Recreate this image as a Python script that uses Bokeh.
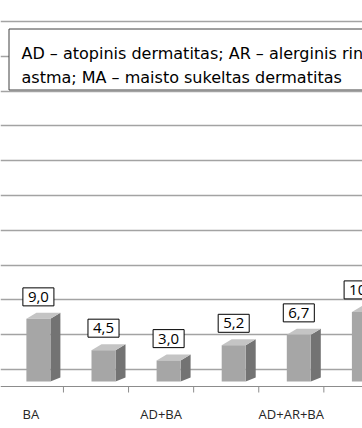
from bokeh.plotting import figure
from bokeh.models import Range1d, FixedTicker, Grid, ColumnDataSource, Span
from bokeh.core.properties import value
from bokeh.embed import file_html
from bokeh.resources import INLINE

# ---- data ----
values = [9.0, 4.5, 3.0, 5.2, 6.7, 10.0]
value_labels = ["9,0", "4,5", "3,0", "5,2", "6,7", "10,0"]
tick_positions = [0, 2, 4]
tick_labels = ["BA", "AD+BA", "AD+AR+BA"]
boundaries = [0.5, 1.5, 2.5, 3.5, 4.5]
grid_values = [0, 5, 10, 15, 20, 25, 30, 35, 40, 45, 50]
legend_lines = [
    "AD – atopinis dermatitas; AR – alerginis rinitas; BA – bronchinė",
    "astma; MA – maisto sukeltas dermatitas",
]

# ---- layout constants (picture pixels) ----
W, H = 362, 428
CAT_PX = 65.1
CAT0_X = 30.4
UNIT_PX = 6.96
ZERO_Y = 369.0
AXIS_Y = 386.0


def px_x(page_x):
    return (page_x - CAT0_X) / CAT_PX


def px_y(page_y):
    return (ZERO_Y - page_y) / UNIT_PX


def dx(px):
    return px / CAT_PX


def dy(px):
    return px / UNIT_PX


p = figure(
    width=W, height=H, output_backend="svg", toolbar_location=None,
    x_range=Range1d(px_x(0), px_x(W)),
    y_range=Range1d(px_y(H), px_y(0)),
    x_axis_location=None, y_axis_location=None,
    min_border=0,
)
p.outline_line_color = None
p.background_fill_color = "white"
p.border_fill_color = "white"

# remove default grids
for r in list(p.center):
    if isinstance(r, Grid):
        r.visible = False

grid = Grid(dimension=1, ticker=FixedTicker(ticks=grid_values),
            grid_line_color="#a3a3a3", grid_line_width=1.6)
p.add_layout(grid)

# ---- category axis (floor line, ticks between categories, labels) ----
p.add_layout(Span(location=px_y(AXIS_Y), dimension="width",
                  line_color="#8c8c8c", line_width=1))
p.segment(x0=boundaries, y0=[px_y(AXIS_Y)] * len(boundaries),
          x1=boundaries, y1=[px_y(AXIS_Y + 6)] * len(boundaries),
          line_color="#8c8c8c", line_width=1)
p.text(x=tick_positions, y=[px_y(413)] * len(tick_positions), text=tick_labels,
       text_font=value("Open Sans"), text_font_size="13px", text_color="#262626",
       text_align="center", text_baseline="alphabetic")

# ---- 3D-looking bars ----
D = dy(12)
FL, FR = dx(-4.5), dx(19.5)
SDX = dx(10)
TOP_DY, BOT_DY = dy(6), dy(4)

xs = list(range(len(values)))
left = [x + FL for x in xs]
right = [x + FR for x in xs]
tops = [v - D for v in values]
bottoms = [-D for _ in values]

side_xs = [[r, r + SDX, r + SDX, r] for r in right]
side_ys = [[-D, -D + BOT_DY, t + TOP_DY, t] for t in tops]
top_xs = [[l, r, r + SDX, l + SDX] for l, r in zip(left, right)]
top_ys = [[t, t, t + TOP_DY, t + TOP_DY] for t in tops]

p.patches(side_xs, side_ys, fill_color="#737373", line_color=None)
p.patches(top_xs, top_ys, fill_color="#c4c4c4", line_color=None)
p.quad(left=left, right=right, bottom=bottoms, top=tops,
       fill_color="#a6a6a6", line_color=None)

lab_src = ColumnDataSource(dict(
    x=[(l + r) / 2 for l, r in zip(left, right)],
    y=tops,
    text=value_labels,
))
p.text(x="x", y="y", text="text", source=lab_src,
       y_offset=-13, text_align="center", text_baseline="bottom",
       text_font=value("Open Sans"), text_font_size="15px", text_color="#000000",
       background_fill_color="white", border_line_color="#000000",
       border_line_width=1, padding=dict(left=5, right=5, top=4, bottom=4))

# ---- legend-like text box at top ----
p.quad(left=[px_x(8.5)], right=[px_x(420)], top=[px_y(28.5)], bottom=[px_y(89.5)],
       fill_color="white", line_color="#404040", line_width=1)
p.text(x=[px_x(21), px_x(21)], y=[px_y(53), px_y(77)], text=legend_lines,
       text_font=value("DejaVu Sans"), text_font_size="16px",
       text_color="#000000", text_baseline="alphabetic", text_align="left")

open("out.html", "w").write(file_html(p, INLINE))
